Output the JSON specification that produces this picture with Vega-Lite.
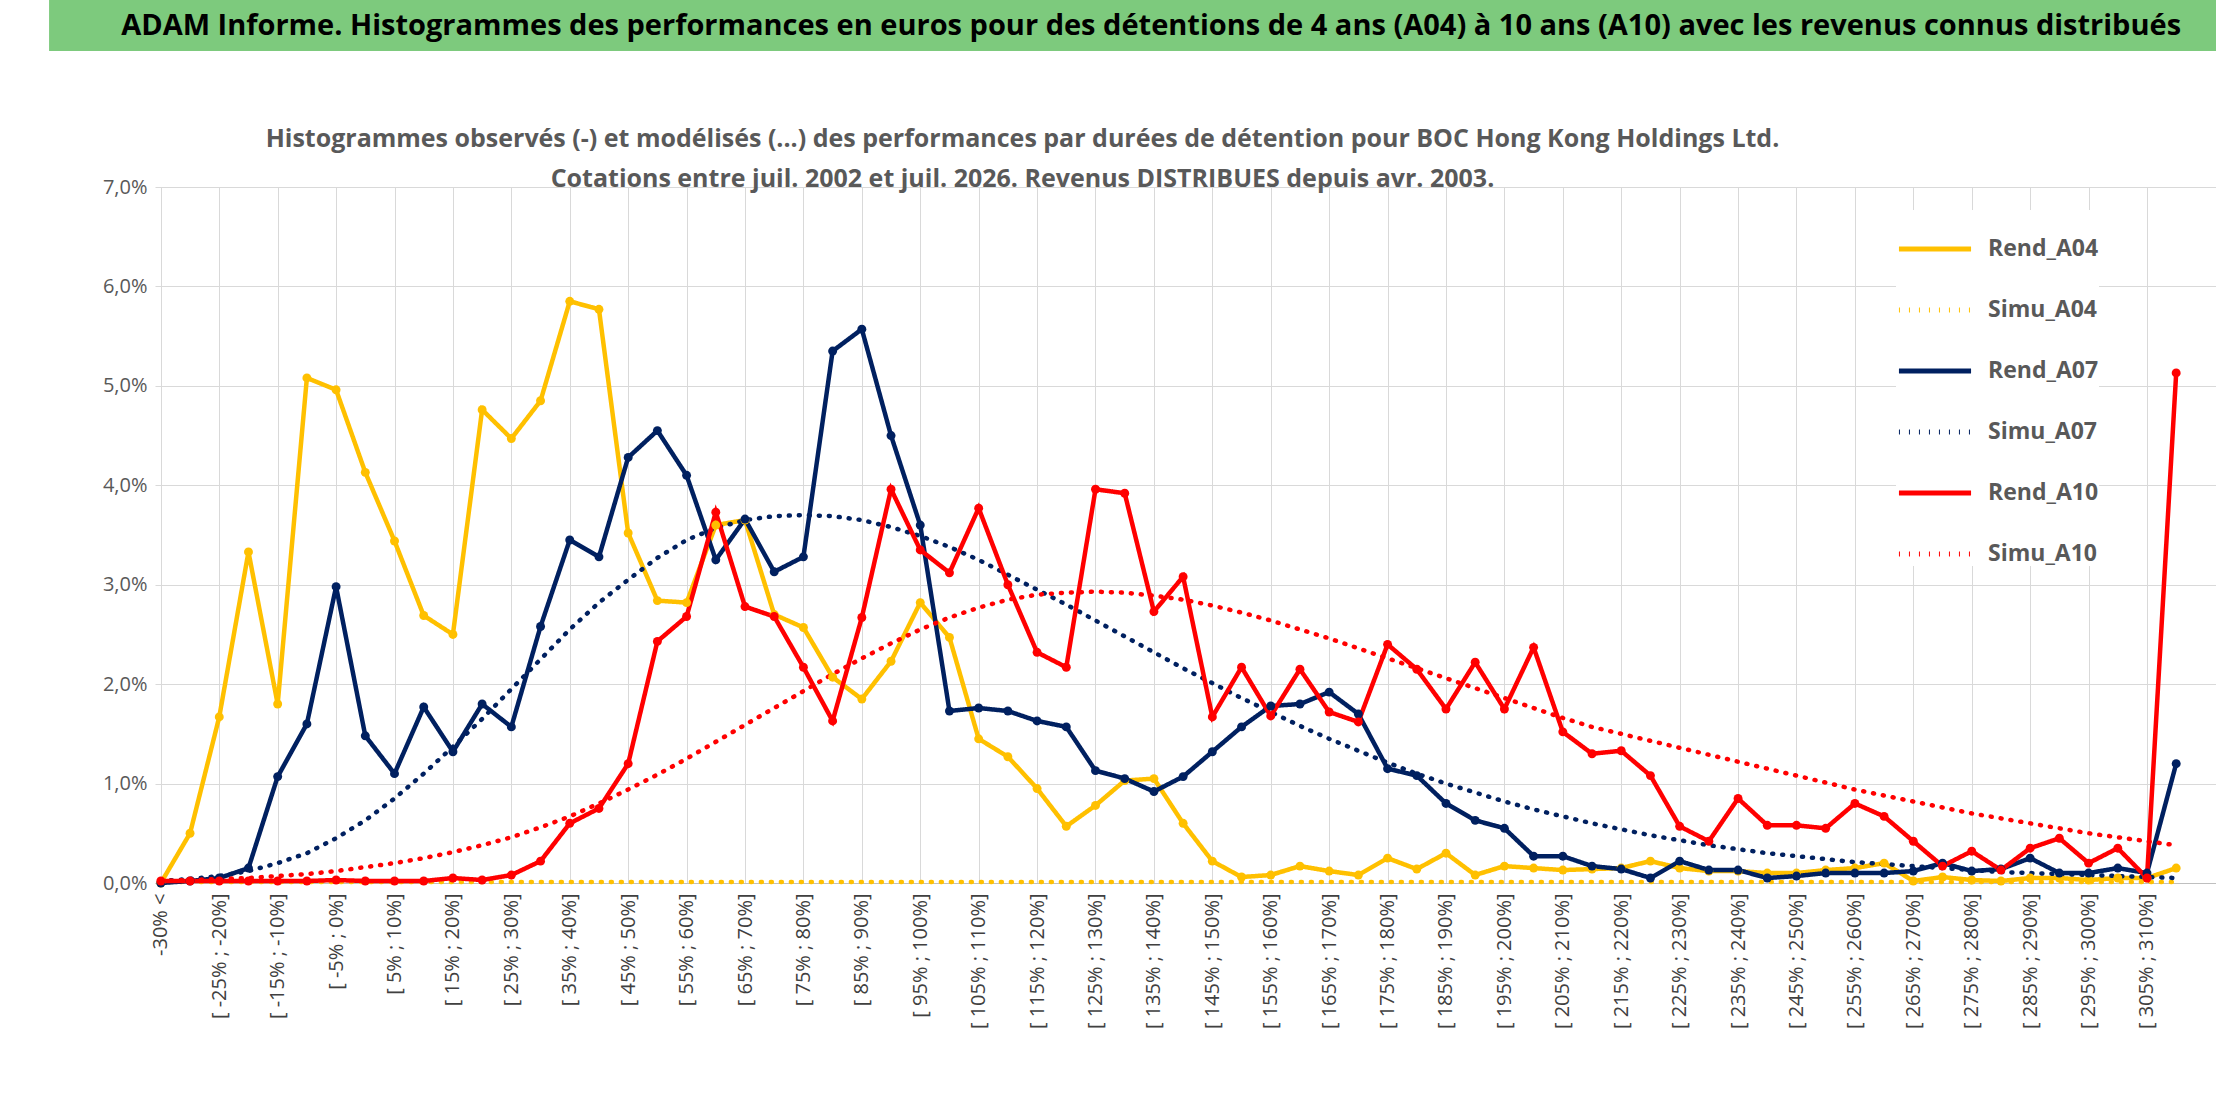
{
  "$schema": "https://vega.github.io/schema/vega-lite/v6.json",
  "padding": {"left": 49, "top": 0, "right": 4, "bottom": 0},
  "background": "white",
  "spacing": 76,
  "config": {"font": "Open Sans", "view": {"stroke": null}},
  "vconcat": [
    {
      "width": 2106,
      "height": 51,
      "data": {"values": [{"t": "ADAM Informe. Histogrammes des performances en euros pour des détentions de 4 ans (A04) à 10 ans (A10) avec les revenus connus distribués", "x0": -0.0503, "x1": 1.0, "xc": 0.473}]},
      "encoding": {
        "x": {"field": "x0", "type": "quantitative", "scale": {"domain": [0, 1], "nice": false, "zero": false}, "axis": null},
        "y": {"datum": 0, "type": "quantitative", "scale": {"domain": [0, 1]}, "axis": null}
      },
      "layer": [
        {
          "mark": {"type": "rect", "color": "#7dca7d"},
          "encoding": {"x2": {"field": "x1"}, "y": {"datum": 0}, "y2": {"datum": 1}}
        },
        {
          "mark": {"type": "text", "fontSize": 29, "fontWeight": "bold", "color": "#000000", "font": "Open Sans"},
          "encoding": {"x": {"field": "xc", "type": "quantitative"}, "y": {"datum": 0.5}, "text": {"field": "t"}}
        }
      ]
    },
    {
      "width": 2065,
      "height": 696,
      "data": {"values": [
        {"i":0,"Rend_A04":0,"Simu_A04":0.01,"Rend_A07":0,"Simu_A07":0.02,"Rend_A10":0.02,"Simu_A10":0.02},
        {"i":1,"Rend_A04":0.5,"Simu_A04":0.01,"Rend_A07":0.02,"Simu_A07":0.04,"Rend_A10":0.02,"Simu_A10":0.03},
        {"i":2,"Rend_A04":1.67,"Simu_A04":0.01,"Rend_A07":0.05,"Simu_A07":0.07,"Rend_A10":0.02,"Simu_A10":0.04},
        {"i":3,"Rend_A04":3.33,"Simu_A04":0.01,"Rend_A07":0.15,"Simu_A07":0.12,"Rend_A10":0.02,"Simu_A10":0.05},
        {"i":4,"Rend_A04":1.8,"Simu_A04":0.01,"Rend_A07":1.07,"Simu_A07":0.2,"Rend_A10":0.02,"Simu_A10":0.07},
        {"i":5,"Rend_A04":5.08,"Simu_A04":0.01,"Rend_A07":1.6,"Simu_A07":0.3,"Rend_A10":0.02,"Simu_A10":0.09},
        {"i":6,"Rend_A04":4.96,"Simu_A04":0.01,"Rend_A07":2.98,"Simu_A07":0.45,"Rend_A10":0.03,"Simu_A10":0.12},
        {"i":7,"Rend_A04":4.13,"Simu_A04":0.01,"Rend_A07":1.48,"Simu_A07":0.63,"Rend_A10":0.02,"Simu_A10":0.16},
        {"i":8,"Rend_A04":3.44,"Simu_A04":0.01,"Rend_A07":1.1,"Simu_A07":0.85,"Rend_A10":0.02,"Simu_A10":0.2},
        {"i":9,"Rend_A04":2.69,"Simu_A04":0.01,"Rend_A07":1.77,"Simu_A07":1.1,"Rend_A10":0.02,"Simu_A10":0.25},
        {"i":10,"Rend_A04":2.5,"Simu_A04":0.01,"Rend_A07":1.32,"Simu_A07":1.37,"Rend_A10":0.05,"Simu_A10":0.31},
        {"i":11,"Rend_A04":4.76,"Simu_A04":0.01,"Rend_A07":1.8,"Simu_A07":1.65,"Rend_A10":0.03,"Simu_A10":0.38},
        {"i":12,"Rend_A04":4.47,"Simu_A04":0.01,"Rend_A07":1.57,"Simu_A07":1.95,"Rend_A10":0.08,"Simu_A10":0.46},
        {"i":13,"Rend_A04":4.85,"Simu_A04":0.01,"Rend_A07":2.58,"Simu_A07":2.25,"Rend_A10":0.22,"Simu_A10":0.56},
        {"i":14,"Rend_A04":5.85,"Simu_A04":0.01,"Rend_A07":3.45,"Simu_A07":2.55,"Rend_A10":0.6,"Simu_A10":0.67},
        {"i":15,"Rend_A04":5.77,"Simu_A04":0.01,"Rend_A07":3.28,"Simu_A07":2.82,"Rend_A10":0.75,"Simu_A10":0.8},
        {"i":16,"Rend_A04":3.52,"Simu_A04":0.01,"Rend_A07":4.28,"Simu_A07":3.05,"Rend_A10":1.2,"Simu_A10":0.94},
        {"i":17,"Rend_A04":2.84,"Simu_A04":0.01,"Rend_A07":4.55,"Simu_A07":3.27,"Rend_A10":2.43,"Simu_A10":1.09},
        {"i":18,"Rend_A04":2.82,"Simu_A04":0.01,"Rend_A07":4.1,"Simu_A07":3.45,"Rend_A10":2.68,"Simu_A10":1.25},
        {"i":19,"Rend_A04":3.6,"Simu_A04":0.01,"Rend_A07":3.25,"Simu_A07":3.57,"Rend_A10":3.73,"Simu_A10":1.42},
        {"i":20,"Rend_A04":3.65,"Simu_A04":0.01,"Rend_A07":3.66,"Simu_A07":3.65,"Rend_A10":2.78,"Simu_A10":1.59},
        {"i":21,"Rend_A04":2.7,"Simu_A04":0.01,"Rend_A07":3.13,"Simu_A07":3.69,"Rend_A10":2.68,"Simu_A10":1.76},
        {"i":22,"Rend_A04":2.57,"Simu_A04":0.01,"Rend_A07":3.28,"Simu_A07":3.7,"Rend_A10":2.17,"Simu_A10":1.93},
        {"i":23,"Rend_A04":2.07,"Simu_A04":0.01,"Rend_A07":5.35,"Simu_A07":3.69,"Rend_A10":1.63,"Simu_A10":2.1},
        {"i":24,"Rend_A04":1.85,"Simu_A04":0.01,"Rend_A07":5.57,"Simu_A07":3.65,"Rend_A10":2.67,"Simu_A10":2.26},
        {"i":25,"Rend_A04":2.23,"Simu_A04":0.01,"Rend_A07":4.5,"Simu_A07":3.58,"Rend_A10":3.96,"Simu_A10":2.41},
        {"i":26,"Rend_A04":2.82,"Simu_A04":0.01,"Rend_A07":3.6,"Simu_A07":3.49,"Rend_A10":3.35,"Simu_A10":2.55},
        {"i":27,"Rend_A04":2.47,"Simu_A04":0.01,"Rend_A07":1.73,"Simu_A07":3.38,"Rend_A10":3.12,"Simu_A10":2.67},
        {"i":28,"Rend_A04":1.45,"Simu_A04":0.01,"Rend_A07":1.76,"Simu_A07":3.25,"Rend_A10":3.77,"Simu_A10":2.77},
        {"i":29,"Rend_A04":1.27,"Simu_A04":0.01,"Rend_A07":1.73,"Simu_A07":3.1,"Rend_A10":3.0,"Simu_A10":2.85},
        {"i":30,"Rend_A04":0.95,"Simu_A04":0.01,"Rend_A07":1.63,"Simu_A07":2.95,"Rend_A10":2.32,"Simu_A10":2.9},
        {"i":31,"Rend_A04":0.57,"Simu_A04":0.01,"Rend_A07":1.57,"Simu_A07":2.8,"Rend_A10":2.17,"Simu_A10":2.92},
        {"i":32,"Rend_A04":0.78,"Simu_A04":0.01,"Rend_A07":1.13,"Simu_A07":2.64,"Rend_A10":3.96,"Simu_A10":2.93},
        {"i":33,"Rend_A04":1.03,"Simu_A04":0.01,"Rend_A07":1.05,"Simu_A07":2.48,"Rend_A10":3.92,"Simu_A10":2.92},
        {"i":34,"Rend_A04":1.05,"Simu_A04":0.01,"Rend_A07":0.92,"Simu_A07":2.32,"Rend_A10":2.73,"Simu_A10":2.89},
        {"i":35,"Rend_A04":0.6,"Simu_A04":0.01,"Rend_A07":1.07,"Simu_A07":2.16,"Rend_A10":3.08,"Simu_A10":2.85},
        {"i":36,"Rend_A04":0.22,"Simu_A04":0.01,"Rend_A07":1.32,"Simu_A07":2.01,"Rend_A10":1.67,"Simu_A10":2.79},
        {"i":37,"Rend_A04":0.06,"Simu_A04":0.01,"Rend_A07":1.57,"Simu_A07":1.86,"Rend_A10":2.17,"Simu_A10":2.72},
        {"i":38,"Rend_A04":0.08,"Simu_A04":0.01,"Rend_A07":1.78,"Simu_A07":1.72,"Rend_A10":1.68,"Simu_A10":2.64},
        {"i":39,"Rend_A04":0.17,"Simu_A04":0.01,"Rend_A07":1.8,"Simu_A07":1.58,"Rend_A10":2.15,"Simu_A10":2.55},
        {"i":40,"Rend_A04":0.12,"Simu_A04":0.01,"Rend_A07":1.92,"Simu_A07":1.45,"Rend_A10":1.72,"Simu_A10":2.46},
        {"i":41,"Rend_A04":0.08,"Simu_A04":0.01,"Rend_A07":1.7,"Simu_A07":1.33,"Rend_A10":1.62,"Simu_A10":2.36},
        {"i":42,"Rend_A04":0.25,"Simu_A04":0.01,"Rend_A07":1.15,"Simu_A07":1.21,"Rend_A10":2.4,"Simu_A10":2.26},
        {"i":43,"Rend_A04":0.14,"Simu_A04":0.01,"Rend_A07":1.08,"Simu_A07":1.1,"Rend_A10":2.15,"Simu_A10":2.16},
        {"i":44,"Rend_A04":0.3,"Simu_A04":0.01,"Rend_A07":0.8,"Simu_A07":1.0,"Rend_A10":1.75,"Simu_A10":2.06},
        {"i":45,"Rend_A04":0.08,"Simu_A04":0.01,"Rend_A07":0.63,"Simu_A07":0.91,"Rend_A10":2.22,"Simu_A10":1.96},
        {"i":46,"Rend_A04":0.17,"Simu_A04":0.01,"Rend_A07":0.55,"Simu_A07":0.82,"Rend_A10":1.75,"Simu_A10":1.86},
        {"i":47,"Rend_A04":0.15,"Simu_A04":0.01,"Rend_A07":0.27,"Simu_A07":0.74,"Rend_A10":2.37,"Simu_A10":1.76},
        {"i":48,"Rend_A04":0.13,"Simu_A04":0.01,"Rend_A07":0.27,"Simu_A07":0.67,"Rend_A10":1.52,"Simu_A10":1.66},
        {"i":49,"Rend_A04":0.14,"Simu_A04":0.01,"Rend_A07":0.17,"Simu_A07":0.6,"Rend_A10":1.3,"Simu_A10":1.57},
        {"i":50,"Rend_A04":0.15,"Simu_A04":0.01,"Rend_A07":0.14,"Simu_A07":0.54,"Rend_A10":1.33,"Simu_A10":1.5},
        {"i":51,"Rend_A04":0.22,"Simu_A04":0.01,"Rend_A07":0.05,"Simu_A07":0.48,"Rend_A10":1.08,"Simu_A10":1.43},
        {"i":52,"Rend_A04":0.15,"Simu_A04":0.01,"Rend_A07":0.22,"Simu_A07":0.43,"Rend_A10":0.57,"Simu_A10":1.36},
        {"i":53,"Rend_A04":0.12,"Simu_A04":0.01,"Rend_A07":0.13,"Simu_A07":0.38,"Rend_A10":0.42,"Simu_A10":1.29},
        {"i":54,"Rend_A04":0.12,"Simu_A04":0.01,"Rend_A07":0.13,"Simu_A07":0.34,"Rend_A10":0.85,"Simu_A10":1.22},
        {"i":55,"Rend_A04":0.1,"Simu_A04":0.01,"Rend_A07":0.05,"Simu_A07":0.3,"Rend_A10":0.58,"Simu_A10":1.15},
        {"i":56,"Rend_A04":0.1,"Simu_A04":0.01,"Rend_A07":0.07,"Simu_A07":0.27,"Rend_A10":0.58,"Simu_A10":1.08},
        {"i":57,"Rend_A04":0.13,"Simu_A04":0.01,"Rend_A07":0.1,"Simu_A07":0.24,"Rend_A10":0.55,"Simu_A10":1.01},
        {"i":58,"Rend_A04":0.15,"Simu_A04":0.01,"Rend_A07":0.1,"Simu_A07":0.21,"Rend_A10":0.8,"Simu_A10":0.94},
        {"i":59,"Rend_A04":0.2,"Simu_A04":0.01,"Rend_A07":0.1,"Simu_A07":0.19,"Rend_A10":0.67,"Simu_A10":0.88},
        {"i":60,"Rend_A04":0.02,"Simu_A04":0.01,"Rend_A07":0.12,"Simu_A07":0.17,"Rend_A10":0.42,"Simu_A10":0.82},
        {"i":61,"Rend_A04":0.06,"Simu_A04":0.01,"Rend_A07":0.2,"Simu_A07":0.15,"Rend_A10":0.17,"Simu_A10":0.76},
        {"i":62,"Rend_A04":0.03,"Simu_A04":0.01,"Rend_A07":0.12,"Simu_A07":0.13,"Rend_A10":0.32,"Simu_A10":0.7},
        {"i":63,"Rend_A04":0.02,"Simu_A04":0.01,"Rend_A07":0.14,"Simu_A07":0.11,"Rend_A10":0.13,"Simu_A10":0.65},
        {"i":64,"Rend_A04":0.05,"Simu_A04":0.01,"Rend_A07":0.25,"Simu_A07":0.1,"Rend_A10":0.35,"Simu_A10":0.6},
        {"i":65,"Rend_A04":0.05,"Simu_A04":0.01,"Rend_A07":0.1,"Simu_A07":0.09,"Rend_A10":0.45,"Simu_A10":0.55},
        {"i":66,"Rend_A04":0.03,"Simu_A04":0.01,"Rend_A07":0.1,"Simu_A07":0.08,"Rend_A10":0.2,"Simu_A10":0.5},
        {"i":67,"Rend_A04":0.05,"Simu_A04":0.01,"Rend_A07":0.15,"Simu_A07":0.07,"Rend_A10":0.35,"Simu_A10":0.46},
        {"i":68,"Rend_A04":0.05,"Simu_A04":0.01,"Rend_A07":0.1,"Simu_A07":0.06,"Rend_A10":0.05,"Simu_A10":0.42},
        {"i":69,"Rend_A04":0.15,"Simu_A04":0.01,"Rend_A07":1.2,"Simu_A07":0.05,"Rend_A10":5.13,"Simu_A10":0.38}
      ]},
      "transform": [
        {"fold": ["Rend_A04", "Simu_A04", "Rend_A07", "Simu_A07", "Rend_A10", "Simu_A10"], "as": ["serie", "val"]}
      ],
      "encoding": {
        "x": {
          "field": "i", "type": "quantitative",
          "scale": {"domain": [-0.2, 70.5], "nice": false, "zero": false},
          "axis": {
            "title": null,
            "values": [0,2,4,6,8,10,12,14,16,18,20,22,24,26,28,30,32,34,36,38,40,42,44,46,48,50,52,54,56,58,60,62,64,66,68],
            "labelExpr": "datum.value == 0 ? '-30% <' : '[ ' + (datum.value*5-35) + '% ; ' + (datum.value*5-30) + '%]'",
            "labelAngle": 270, "labelAlign": "right", "labelBaseline": "middle",
            "labelFontSize": 20, "labelColor": "#404040", "labelPadding": 10, "labelOverlap": false,
            "ticks": false, "domainColor": "#bfbfbf", "gridColor": "#d9d9d9", "grid": true
          }
        },
        "y": {
          "field": "val", "type": "quantitative",
          "scale": {"domain": [0, 7], "nice": false},
          "axis": {
            "title": null, "values": [0,1,2,3,4,5,6,7],
            "labelExpr": "replace(format(datum.value, '.1f'), '.', ',') + '%'",
            "labelFontSize": 20, "labelColor": "#595959", "labelPadding": 8,
            "ticks": false, "domain": false, "gridColor": "#d9d9d9"
          }
        },
        "color": {
          "field": "serie", "type": "nominal",
          "scale": {
            "domain": ["Rend_A04", "Simu_A04", "Rend_A07", "Simu_A07", "Rend_A10", "Simu_A10"],
            "range": ["#FFC000", "#FFC000", "#002060", "#002060", "#FF0000", "#FF0000"]
          },
          "legend": {
            "title": null, "orient": "none", "legendX": 1741, "legendY": 210,
            "symbolType": "stroke", "symbolSize": 5200, "symbolStrokeWidth": 5,
            "labelFontSize": 23, "labelColor": "#595959", "labelFontWeight": "bold",
            "rowPadding": 10, "labelOffset": 14, "fillColor": "white"
          }
        },
        "strokeDash": {
          "field": "serie", "type": "nominal",
          "scale": {
            "domain": ["Rend_A04", "Simu_A04", "Rend_A07", "Simu_A07", "Rend_A10", "Simu_A10"],
            "range": [[1, 0], [1, 9], [1, 0], [1, 9], [1, 0], [1, 9]]
          },
          "legend": null
        }
      },
      "layer": [
        {"mark": {"type": "line", "strokeWidth": 4.5, "strokeCap": "round"}},
        {
          "transform": [{"filter": "indexof(datum.serie, 'Rend') == 0"}],
          "mark": {"type": "point", "filled": true, "size": 80, "opacity": 1},
          "encoding": {"strokeDash": {"value": [1, 0]}}
        },
        {
          "data": {"values": [
            {"t": "Histogrammes observés (-) et modélisés (...) des performances par durées de détention pour BOC Hong Kong Holdings Ltd.", "x": 29.5, "y": 7.48},
            {"t": "Cotations entre juil. 2002 et juil. 2026. Revenus DISTRIBUES depuis avr. 2003.", "x": 29.5, "y": 7.08}
          ]},
          "transform": [],
          "mark": {"type": "text", "fontSize": 25, "fontWeight": "bold", "color": "#595959", "font": "Open Sans"},
          "encoding": {
            "x": {"field": "x", "type": "quantitative"},
            "y": {"field": "y", "type": "quantitative"},
            "text": {"field": "t"},
            "color": {"value": "#595959"},
            "strokeDash": {"value": [1, 0]}
          }
        }
      ]
    }
  ]
}
